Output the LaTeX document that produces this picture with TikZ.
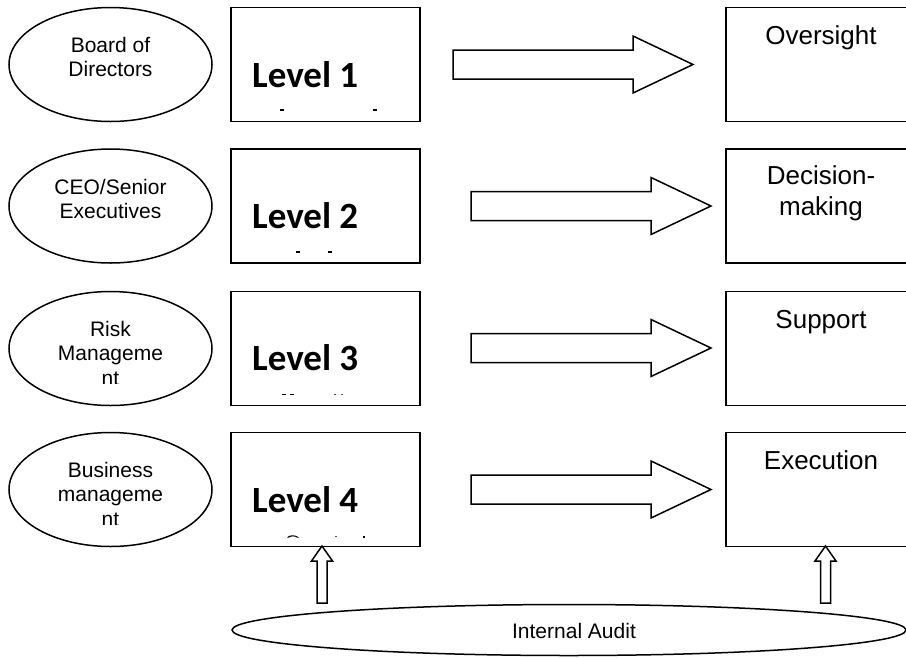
\documentclass[tikz,border=0pt]{standalone}
\usepackage{fontspec}
\setmainfont{Liberation Sans}
\newfontfamily\lvfont{Carlito}
\usetikzlibrary{shapes.geometric}
\tikzset{
  oval/.style={draw=black, line width=1.5pt, ellipse, inner sep=0pt, minimum width=203pt, minimum height=114pt},
  lvbox/.style={draw=black, line width=1.8pt, rectangle, inner sep=0pt, minimum width=189pt, minimum height=114pt},
  rbox/.style={draw=black, line width=1.8pt, rectangle, inner sep=0pt, minimum width=190pt, minimum height=114pt},
  otext/.style={anchor=base, inner sep=0pt, font=\fontsize{21}{24}\selectfont},
  rtext/.style={anchor=base, inner sep=0pt, font=\fontsize{26}{30}\selectfont},
  lvtext/.style={anchor=base west, inner sep=0pt, font=\lvfont\bfseries\fontsize{37}{44}\selectfont},
  blk/.style={draw=black, line width=1.5pt, fill=white, line join=miter},
  frag/.style={fill=black},
  fraglight/.style={fill=black!65},
  rarrow/.pic={\draw[blk] (0,-14.5) -- (180,-14.5) -- (180,-28.5) -- (240,0) -- (180,28.5) -- (180,14.5) -- (0,14.5) -- cycle;},
  uarrow/.pic={\draw[blk] (-5,57) -- (-5,15) -- (-10.5,15) -- (0,0) -- (10.5,15) -- (5,15) -- (5,57) -- cycle;}
}
\begin{document}
\begin{tikzpicture}[x=1pt,y=-1pt]
\useasboundingbox (0,0) rectangle (906,657);
\fill[white] (0,0) rectangle (906,657);
\clip (0,0) rectangle (906,657);

% left ovals
\node[oval] (bod) at (110.5,64.5) {};
\node[oval] (ceo) at (110.5,206) {};
\node[oval] (risk) at (110.5,348.5) {};
\node[oval] (biz) at (110.5,489.5) {};

\node[otext] (bodA) at (110.5,52) {Board of};
\node[otext] (bodB) at (110.5,76) {Directors};
\node[otext] (ceoA) at (110.5,194) {CEO/Senior};
\node[otext] (ceoB) at (110.5,218) {Executives};
\begin{scope}
  \clip (9,291) rectangle (212,383);
  \node[otext] (riskA) at (110.5,336) {Risk};
  \node[otext] (riskB) at (110.5,360) {Manageme};
  \node[otext] (riskC) at (110.5,385) {nt};
\end{scope}
\begin{scope}
  \clip (9,432) rectangle (212,524);
  \node[otext] (bizA) at (110.5,477) {Business};
  \node[otext] (bizB) at (110.5,501) {manageme};
  \node[otext] (bizC) at (110.5,526) {nt};
\end{scope}

% level boxes
\node[lvbox] (l1) at (325.5,64.5) {};
\node[lvbox] (l2) at (325.5,206) {};
\node[lvbox] (l3) at (325.5,348.5) {};
\node[lvbox] (l4) at (325.5,489.5) {};
\node[lvtext] (t1) at (252,87) {Level 1};
\node[lvtext] (t2) at (252,228) {Level 2};
\node[lvtext] (t3) at (252,370) {Level 3};
\node[lvtext] (t4) at (252,512) {Level 4};

% clipped text fragments
\fill[frag] (280,109.3) rectangle (283.5,110.8);
\fill[frag] (373,109.3) rectangle (376.5,110.8);
\fill[frag] (296,251.3) rectangle (299.5,252.8);
\fill[frag] (328,251.3) rectangle (331.5,252.8);
\fill[frag] (282,393.5) rectangle (286,395);
\fill[frag] (290,393.5) rectangle (294,395);
\fill[fraglight] (333.5,394) rectangle (336,395);
\fill[fraglight] (341,394) rectangle (343,395);
\fill[frag] (287,537.5) .. controls (289,534.5) and (296,534.5) .. (299,537.5) -- (297,537.5) .. controls (295,536) and (291,536) .. (289,537.5) -- cycle;
\fill[fraglight] (334.5,536) rectangle (336.5,537.3);
\fill[frag] (363,535.8) rectangle (365,537.5);

% right boxes
\node[rbox] (r1) at (821,64.5) {};
\node[rbox] (r2) at (821,206) {};
\node[rbox] (r3) at (821,348.5) {};
\node[rbox] (r4) at (821,489.5) {};
\node[rtext] (o1) at (821,44) {Oversight};
\node[rtext] (o2a) at (821,184) {Decision-};
\node[rtext] (o2b) at (821,215) {making};
\node[rtext] (o3) at (821,328) {Support};
\node[rtext] (o4) at (821,469) {Execution};

% block arrows
\pic at (453,64.5) {rarrow};
\pic at (471,206) {rarrow};
\pic at (471,348) {rarrow};
\pic at (471,489.5) {rarrow};

% internal audit
\node[draw=black, line width=1.5pt, ellipse, inner sep=0pt, minimum width=674pt, minimum height=51pt] (ia) at (569,630) {};
\node[anchor=base, inner sep=0pt, font=\fontsize{21}{24}\selectfont] (iat) at (574,638) {Internal Audit};

\coordinate (uaL) at (322,546);
\coordinate (uaR) at (825.5,546);
\pic at (uaL) {uarrow};
\pic at (uaR) {uarrow};
\end{tikzpicture}
\end{document}
